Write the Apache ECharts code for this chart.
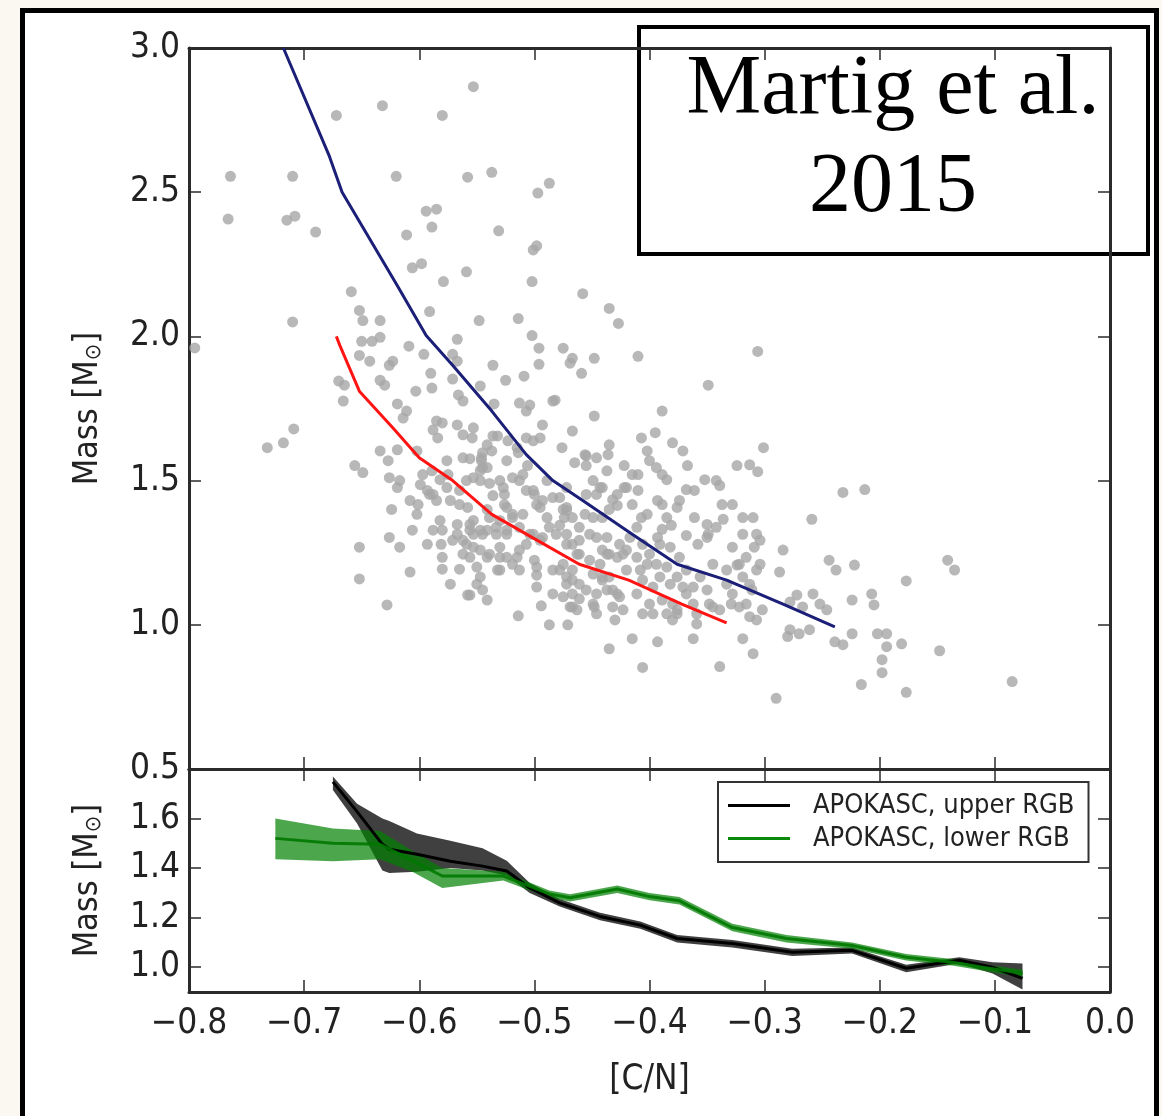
<!DOCTYPE html>
<html>
<head>
<meta charset="utf-8">
<script src="https://cdn.jsdelivr.net/npm/echarts@6/dist/echarts.min.js"></script>
<style>
  html, body { margin: 0; padding: 0; background: #fbf7f1; }
  #chart { width: 1162px; height: 1116px; }
</style>
</head>
<body>
<div id="chart"></div>
<script>
// APOGEE giants: [C/N] vs asteroseismic mass
const giants = [
  [-0.553,2.866],[-0.632,2.80],[-0.672,2.766],[-0.580,2.766],
  [-0.764,2.555],[-0.710,2.555],[-0.620,2.555],[-0.558,2.552],[-0.537,2.569],[-0.487,2.531],[-0.497,2.497],
  [-0.766,2.407],[-0.715,2.403],[-0.708,2.417],[-0.690,2.362],[-0.594,2.434],[-0.585,2.441],[-0.589,2.379],[-0.611,2.352],[-0.531,2.366],[-0.501,2.30],[-0.498,2.314],
  [-0.795,1.96],[-0.710,2.05],[-0.659,2.155],
  [-0.606,2.238],[-0.598,2.252],[-0.559,2.224],[-0.579,2.19],[-0.502,2.19],[-0.458,2.148],[-0.435,2.097],[-0.427,2.045],
  [-0.652,2.09],[-0.649,2.055],[-0.634,2.055],[-0.591,2.086],[-0.548,2.055],[-0.514,2.062],[-0.502,2.003],
  [-0.650,1.983],[-0.641,1.983],[-0.634,1.997],[-0.609,1.966],[-0.567,1.99],[-0.496,1.959],
  [-0.475,1.959],[-0.467,1.924],[-0.469,1.907],[-0.448,1.924],
  [-0.652,1.934],[-0.643,1.914],[-0.626,1.90],[-0.623,1.914],[-0.596,1.938],[-0.571,1.938],[-0.567,1.914],[-0.536,1.90],[-0.496,1.903],[-0.459,1.872],[-0.525,1.848],[-0.509,1.862],[-0.590,1.872],[-0.571,1.852],
  [-0.670,1.845],[-0.665,1.831],[-0.634,1.848],[-0.630,1.831],[-0.589,1.821],[-0.603,1.81],[-0.666,1.776],[-0.619,1.766],[-0.611,1.741],[-0.566,1.797],[-0.562,1.776],[-0.547,1.828],[-0.482,1.779],[-0.513,1.769],[-0.504,1.762],[-0.507,1.741],[-0.448,1.724],[-0.535,1.766],
  [-0.614,1.717],[-0.585,1.707],[-0.580,1.70],[-0.588,1.676],[-0.584,1.648],[-0.567,1.693],[-0.562,1.659],[-0.554,1.648],[-0.493,1.693],[-0.467,1.672],[-0.536,1.655],[-0.507,1.648],[-0.501,1.638],[-0.495,1.648],[-0.515,1.614],[-0.476,1.614],[-0.435,1.624],[-0.436,1.59],[-0.455,1.586],[-0.446,1.579],[-0.422,1.552],[-0.465,1.562],[-0.537,1.603],[-0.546,1.579],[-0.541,1.545],[-0.562,1.579],[-0.556,1.576],[-0.576,1.569],[-0.575,1.521],[-0.589,1.534],[-0.634,1.603],[-0.627,1.569],[-0.619,1.607],[-0.656,1.552],[-0.649,1.528],
  [-0.732,1.614],[-0.718,1.631],[-0.709,1.679],
  [-0.626,1.51],[-0.617,1.50],[-0.619,1.476],[-0.608,1.431],[-0.601,1.417],[-0.602,1.383],[-0.593,1.466],[-0.588,1.452],[-0.624,1.40],
  [-0.553,1.51],[-0.547,1.50],[-0.545,1.545],[-0.530,1.50],[-0.526,1.452],[-0.519,1.51],[-0.513,1.50],[-0.536,1.448],[-0.526,1.417],[-0.501,1.466],[-0.493,1.431],[-0.478,1.441],[-0.472,1.407],[-0.455,1.452],[-0.443,1.476],[-0.428,1.452],[-0.422,1.476],
  [-0.582,1.362],[-0.567,1.348],[-0.580,1.328],[-0.553,1.362],[-0.556,1.328],[-0.545,1.314],[-0.533,1.314],[-0.524,1.328],[-0.519,1.372],[-0.510,1.383],[-0.501,1.314],[-0.495,1.293],[-0.487,1.338],[-0.472,1.314],[-0.461,1.293],[-0.452,1.314],[-0.437,1.303],[-0.426,1.279],[-0.437,1.245],[-0.423,1.245],
  [-0.581,1.279],[-0.562,1.293],[-0.553,1.269],[-0.541,1.234],[-0.530,1.234],[-0.580,1.234],[-0.580,1.193],[-0.565,1.193],[-0.550,1.20],[-0.547,1.166],[-0.532,1.19],[-0.515,1.234],[-0.513,1.259],[-0.500,1.224],[-0.498,1.172],[-0.498,1.131],[-0.478,1.19],[-0.472,1.166],[-0.467,1.155],[-0.484,1.107],[-0.467,1.107],[-0.461,1.09],[-0.469,1.062],[-0.463,1.052],[-0.448,1.062],[-0.446,1.107],[-0.437,1.121],[-0.428,1.107],[-0.430,1.017],[-0.435,0.917],[-0.487,1.0],[-0.471,1.0],[-0.514,1.031],[-0.494,1.066],[-0.556,1.103],[-0.545,1.121],[-0.541,1.086],[-0.608,1.183],[-0.652,1.269],[-0.626,1.303],[-0.617,1.269],[-0.652,1.159],[-0.628,1.069],
  [-0.456,1.59],[-0.455,1.552],[-0.402,1.603],[-0.400,1.569],[-0.394,1.545],[-0.380,1.631],[-0.371,1.603],[-0.367,1.552],[-0.313,1.555],[-0.389,1.521],[-0.385,1.503],[-0.342,1.50],[-0.339,1.483],[-0.410,1.521],[-0.449,1.50],[-0.441,1.476],[-0.446,1.452],
  [-0.420,1.476],[-0.410,1.466],[-0.368,1.469],[-0.361,1.466],[-0.432,1.434],[-0.428,1.414],[-0.393,1.431],[-0.389,1.417],[-0.376,1.407],[-0.374,1.431],[-0.328,1.417],[-0.475,1.40],[-0.474,1.372],[-0.456,1.383],[-0.449,1.372],[-0.435,1.40],[-0.441,1.372],[-0.407,1.372],[-0.411,1.338],[-0.385,1.372],[-0.381,1.345],[-0.389,1.331],[-0.361,1.372],[-0.350,1.348],[-0.336,1.366],[-0.310,1.372],[-0.368,1.31],[-0.393,1.303],[-0.391,1.279],[-0.358,1.279],[-0.345,1.21],[-0.307,1.314],[-0.309,1.269],[-0.322,1.21],[-0.333,1.19],
  [-0.478,1.345],[-0.461,1.338],[-0.446,1.303],[-0.441,1.259],[-0.420,1.259],[-0.428,1.234],[-0.411,1.234],[-0.402,1.21],[-0.408,1.19],[-0.394,1.21],[-0.385,1.20],[-0.391,1.166],[-0.374,1.234],[-0.368,1.19],[-0.376,1.166],[-0.356,1.166],[-0.362,1.131],[-0.350,1.121],[-0.333,1.141],[-0.328,1.107],[-0.316,1.072],[-0.311,1.121],[-0.455,1.121],[-0.449,1.072],[-0.426,1.097],[-0.432,1.062],[-0.411,1.107],[-0.400,1.072],[-0.406,1.038],[-0.389,1.086],[-0.380,1.072],[-0.385,1.038],[-0.368,1.107],[-0.362,1.072],[-0.359,1.038],[-0.345,1.062],[-0.449,1.176],[-0.441,1.155],
  [-0.484,1.776],[-0.532,1.655],[-0.523,1.638],[-0.602,1.603],[-0.545,1.597],[-0.546,1.569],[-0.514,1.597],[-0.506,1.552],[-0.597,1.521],[-0.599,1.486],[-0.582,1.503],[-0.576,1.476],[-0.507,1.466],[-0.500,1.452],[-0.484,1.441],[-0.591,1.452],[-0.585,1.431],[-0.573,1.431],[-0.565,1.417],[-0.558,1.407],[-0.541,1.40],[-0.524,1.407],[-0.519,1.383],[-0.489,1.372],[-0.495,1.407],[-0.472,1.397],[-0.467,1.372],[-0.556,1.348],[-0.553,1.314],[-0.541,1.328],[-0.533,1.338],[-0.524,1.314],[-0.513,1.338],[-0.504,1.314],[-0.481,1.314],[-0.571,1.293],[-0.559,1.279],[-0.547,1.259],[-0.556,1.234],[-0.539,1.245],[-0.530,1.269],[-0.524,1.234],[-0.484,1.19],[-0.475,1.21],[-0.467,1.19],[-0.530,1.19],[-0.513,1.19],
  [-0.558,1.103],[-0.441,1.166],[-0.432,1.121],
  [-0.349,1.831],[-0.389,1.741],[-0.407,1.648],[-0.395,1.666],[-0.415,1.521],[-0.324,1.552],[-0.306,1.531],[-0.301,1.614],[-0.352,1.503],[-0.337,1.417],[-0.319,1.372],[-0.319,1.314],[-0.304,1.293],[-0.349,1.314],[-0.284,1.259],[-0.259,1.366],[-0.232,1.459],[-0.213,1.469],[-0.244,1.224],[-0.238,1.19],[-0.287,1.183],[-0.307,1.19],[-0.324,1.207],[-0.319,1.166],[-0.313,1.141],[-0.329,1.072],[-0.322,1.062],[-0.313,1.028],[-0.307,1.017],[-0.302,1.052],[-0.278,1.079],[-0.272,1.103],[-0.267,1.062],[-0.258,1.107],[-0.252,1.072],[-0.246,1.052],[-0.278,0.983],[-0.270,0.969],[-0.261,0.983],[-0.280,0.959],[-0.224,1.086],[-0.222,1.207],[-0.207,1.107],[-0.205,1.069],[-0.224,0.969],[-0.239,0.941],[-0.232,0.931],[-0.202,0.969],[-0.194,0.969],[-0.194,0.924],[-0.198,0.879],[-0.198,0.834],[-0.181,0.934],[-0.177,1.152],[-0.141,1.224],[-0.135,1.19],[-0.148,0.910],[-0.216,0.793],[-0.177,0.766],[-0.085,0.803],[-0.290,0.745],[-0.339,0.855],[-0.310,0.90],[-0.319,0.952],[-0.362,0.952],[-0.393,0.941],[-0.415,0.952],[-0.406,0.852],
  [-0.359,1.003],[-0.380,1.017],[-0.376,1.052],
  [-0.410,1.931],[-0.306,1.948],
  [-0.547,1.535],[-0.539,1.49],[-0.559,1.50],[-0.565,1.466],[-0.527,1.476],[-0.498,1.417],[-0.539,1.372],[-0.530,1.362],[-0.547,1.328],[-0.567,1.314],[-0.593,1.279],[-0.588,1.328],[-0.606,1.328],[-0.562,1.245],[-0.507,1.279],[-0.493,1.303],[-0.472,1.279],[-0.463,1.245],[-0.519,1.21],[-0.498,1.20],[-0.472,1.141],[-0.573,1.141],[-0.550,1.141],
  [-0.467,1.279],[-0.461,1.245],[-0.452,1.224],[-0.435,1.245],[-0.417,1.303],[-0.406,1.279],[-0.400,1.245],[-0.382,1.269],[-0.420,1.19],[-0.435,1.166],[-0.406,1.155],[-0.397,1.131],[-0.382,1.141],[-0.371,1.131],[-0.348,1.072],[-0.339,1.052],[-0.475,1.097],[-0.467,1.062],[-0.423,1.052],[-0.397,1.038],[-0.376,1.038],[-0.446,1.038],[-0.461,1.141],[-0.443,1.21],
  [-0.553,1.683],[-0.541,1.624],[-0.524,1.569],[-0.510,1.521],[-0.489,1.50],[-0.472,1.476],
  [-0.437,1.534],[-0.415,1.417],[-0.402,1.383],[-0.342,1.338],[-0.350,1.303],[-0.328,1.269],[-0.316,1.234],[-0.304,1.21]
];

// Model mass–[C/N] relations
const upperRelation = [[-0.718,3.0],[-0.678,2.624],[-0.667,2.50],[-0.619,2.176],[-0.594,2.003],[-0.571,1.90],[-0.537,1.741],[-0.507,1.59],[-0.484,1.50],[-0.458,1.431],[-0.415,1.314],[-0.376,1.21],[-0.333,1.155],[-0.284,1.072],[-0.239,0.993]];
const lowerRelation = [[-0.672,2.0],[-0.669,1.969],[-0.652,1.81],[-0.623,1.683],[-0.600,1.579],[-0.571,1.50],[-0.537,1.383],[-0.502,1.303],[-0.461,1.21],[-0.418,1.155],[-0.372,1.072],[-0.333,1.007]];

// APOKASC running means with their spread, upper RGB
const upperCN   = [-0.675,-0.654,-0.632,-0.626,-0.602,-0.573,-0.545,-0.524,-0.504,-0.478,-0.443,-0.408,-0.376,-0.328,-0.276,-0.224,-0.177,-0.131,-0.102,-0.076];
const upperMass = [1.748,1.628,1.496,1.476,1.456,1.428,1.408,1.388,1.32,1.26,1.205,1.17,1.116,1.096,1.06,1.068,0.996,1.028,1.0,0.955];
const upperHi   = [1.77,1.66,1.60,1.59,1.54,1.51,1.48,1.43,1.34,1.275,1.22,1.185,1.13,1.11,1.075,1.08,1.01,1.04,1.02,1.015];
const upperLo   = [1.715,1.58,1.39,1.38,1.385,1.40,1.39,1.37,1.30,1.245,1.19,1.155,1.10,1.08,1.045,1.055,0.98,1.015,0.975,0.91];

// APOKASC running means with their spread, lower RGB
const lowerCN   = [-0.725,-0.675,-0.634,-0.606,-0.58,-0.527,-0.487,-0.469,-0.428,-0.40,-0.374,-0.328,-0.281,-0.224,-0.177,-0.137,-0.111,-0.076];
const lowerMass = [1.52,1.50,1.496,1.43,1.368,1.368,1.296,1.28,1.316,1.285,1.268,1.16,1.116,1.088,1.04,1.02,1.0,0.976];
const lowerHi   = [1.60,1.56,1.55,1.47,1.40,1.385,1.31,1.295,1.33,1.30,1.283,1.175,1.13,1.10,1.053,1.033,1.013,0.99];
const lowerLo   = [1.436,1.428,1.436,1.385,1.32,1.35,1.28,1.265,1.30,1.27,1.253,1.145,1.10,1.075,1.027,1.007,0.987,0.96];

const lowerMassTicks = [1.0,1.2,1.4,1.6];

const FONT = "'DejaVu Sans Condensed', 'Liberation Sans Narrow', 'DejaVu Sans', sans-serif";
const AXIS_COLOR = '#2b2b2b';

const fmtCN = v => (v < -1e-9 ? '\u2212' : '') + Math.abs(v).toFixed(1);

function spine(gridIndex, position, opts) {
  return Object.assign({
    gridIndex, position, type: 'value',
    axisLine: { show: true, onZero: false, lineStyle: { color: AXIS_COLOR, width: 3 } },
    axisTick: { show: true, inside: true, length: 12, lineStyle: { color: AXIS_COLOR, width: 1.5 } },
    axisLabel: { show: false },
    splitLine: { show: false }
  }, opts);
}

// Filled spread band between lo and hi, placed through the axis scales
function bandSeries(xs, lo, hi, color, xi, yi, z) {
  return {
    type: 'custom', xAxisIndex: xi, yAxisIndex: yi, z, silent: true,
    data: [[xs[0], lo[0]]],
    renderItem: (params, api) => {
      if (params.dataIndex !== 0) return null;
      const pts = [];
      for (let i = 0; i < xs.length; i++) pts.push(api.coord([xs[i], hi[i]]));
      for (let i = xs.length - 1; i >= 0; i--) pts.push(api.coord([xs[i], lo[i]]));
      return { type: 'polygon', shape: { points: pts }, style: { fill: color } };
    }
  };
}

const chart = echarts.init(document.getElementById('chart'), null, { renderer: 'canvas' });

const cnAxisCommon = { min: -0.8, max: 0, interval: 0.1 };
const massName = {
  name: 'Mass [M{sun|\u2299}]', nameLocation: 'middle', nameGap: 84, nameRotate: 90,
  nameTextStyle: { fontSize: 34, fontFamily: FONT, color: '#222', rich: { sun: { fontSize: 22, fontFamily: FONT, color: '#222', verticalAlign: 'bottom' } } }
};

chart.setOption({
  animation: false,
  backgroundColor: 'transparent',
  grid: [
    { left: 189, top: 48, width: 921, height: 721, outerBoundsMode: 'none', containLabel: false },
    { left: 189, top: 769, width: 921, height: 223, outerBoundsMode: 'none', containLabel: false }
  ],
  xAxis: [
    spine(0, 'bottom', cnAxisCommon),
    spine(0, 'top', cnAxisCommon),
    spine(1, 'bottom', Object.assign({}, cnAxisCommon, {
      axisLabel: { show: true, formatter: fmtCN, fontSize: 35, fontFamily: FONT, color: '#222', margin: 14, showMinLabel: true, showMaxLabel: true },
      name: '[C/N]', nameLocation: 'middle', nameGap: 70,
      nameTextStyle: { fontSize: 35, fontFamily: FONT, color: '#222' }
    })),
    spine(1, 'top', cnAxisCommon)
  ],
  yAxis: [
    spine(0, 'left', Object.assign({
      min: 0.5, max: 3.0, interval: 0.5,
      axisLabel: { show: true, formatter: v => v.toFixed(1), fontSize: 35, fontFamily: FONT, color: '#222', margin: 9, showMinLabel: true, showMaxLabel: true }
    }, massName)),
    spine(0, 'right', { min: 0.5, max: 3.0, interval: 0.5 }),
    spine(1, 'left', Object.assign({
      min: 0.9, max: 1.8,
      axisTick: { show: true, inside: true, length: 12, customValues: lowerMassTicks, lineStyle: { color: AXIS_COLOR, width: 1.5 } },
      axisLabel: { show: true, customValues: lowerMassTicks, formatter: v => v.toFixed(1), fontSize: 35, fontFamily: FONT, color: '#222', margin: 9 }
    }, massName)),
    spine(1, 'right', {
      min: 0.9, max: 1.8,
      axisTick: { show: true, inside: true, length: 12, customValues: lowerMassTicks, lineStyle: { color: AXIS_COLOR, width: 1.5 } }
    })
  ],
  legend: {
    left: 718, top: 782, orient: 'vertical',
    data: ['APOKASC, upper RGB', 'APOKASC, lower RGB'],
    icon: 'rect', itemWidth: 62, itemHeight: 3, itemGap: 6,
    padding: [10, 14, 10, 10],
    borderColor: '#333', borderWidth: 2, backgroundColor: '#fff',
    textStyle: { fontSize: 27, fontFamily: FONT, color: '#222', padding: [0, 0, 0, 18] },
    selectedMode: false
  },
  graphic: [
    {
      type: 'rect', z: -100, silent: true,
      shape: { x: 22.5, y: 10.5, width: 1134, height: 1200 },
      style: { fill: '#ffffff', stroke: '#000', lineWidth: 5 }
    },
    {
      type: 'group', z: 100, silent: true,
      children: [
        { type: 'rect', shape: { x: 639, y: 27, width: 509, height: 227 }, style: { fill: '#fff', stroke: '#000', lineWidth: 4 } },
        { type: 'text', style: { x: 893, y: 140, text: 'Martig et al.\n2015', align: 'center', verticalAlign: 'middle',
          fontSize: 84, lineHeight: 98, fontFamily: "'Liberation Serif', 'DejaVu Serif', serif", fill: '#000' } }
      ]
    }
  ],
  series: [
    {
      type: 'scatter', xAxisIndex: 0, yAxisIndex: 0, z: 2,
      data: giants, symbol: 'circle', symbolSize: 11,
      itemStyle: { color: '#a6a6a6' }, silent: true
    },
    {
      type: 'line', xAxisIndex: 0, yAxisIndex: 0, z: 3,
      data: upperRelation, showSymbol: false, silent: true,
      lineStyle: { color: '#1b1f78', width: 3 }
    },
    {
      type: 'line', xAxisIndex: 0, yAxisIndex: 0, z: 3,
      data: lowerRelation, showSymbol: false, silent: true,
      lineStyle: { color: '#ff1414', width: 3 }
    },
    bandSeries(upperCN, upperLo, upperHi, 'rgba(0,0,0,0.75)', 2, 2, 2),
    bandSeries(lowerCN, lowerLo, lowerHi, 'rgba(0,128,0,0.7)', 2, 2, 3),
    {
      name: 'APOKASC, upper RGB', type: 'line', xAxisIndex: 2, yAxisIndex: 2, z: 4,
      data: upperCN.map((x, i) => [x, upperMass[i]]), showSymbol: false, silent: true,
      itemStyle: { color: '#000' }, lineStyle: { color: '#000', width: 3 }
    },
    {
      name: 'APOKASC, lower RGB', type: 'line', xAxisIndex: 2, yAxisIndex: 2, z: 5,
      data: lowerCN.map((x, i) => [x, lowerMass[i]]), showSymbol: false, silent: true,
      itemStyle: { color: '#0a8a0a' }, lineStyle: { color: 'rgba(0,120,0,0.9)', width: 3 }
    }
  ]
});
</script>
</body>
</html>
